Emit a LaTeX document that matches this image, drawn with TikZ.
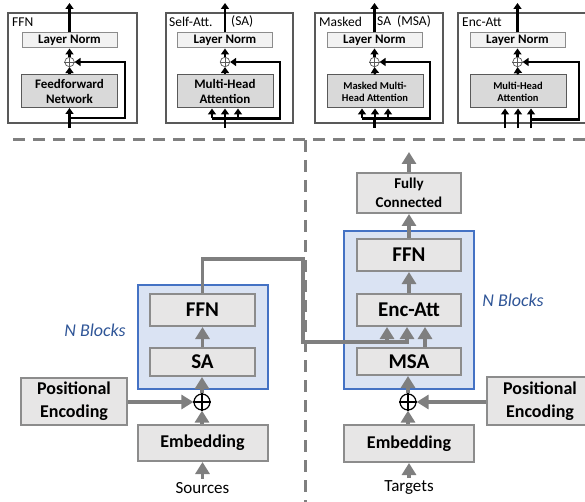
\documentclass[tikz,border=0pt]{standalone}
\usepackage{fontspec}
\setmainfont{Carlito}
\usetikzlibrary{arrows.meta, calc}

\definecolor{BoxFill}{HTML}{E7E6E6}
\definecolor{BoxLine}{HTML}{8C8C8C}
\definecolor{ArrowGray}{HTML}{7F7F7F}
\definecolor{BlockFill}{HTML}{DAE3F3}
\definecolor{BlockLine}{HTML}{4472C4}
\definecolor{BlockText}{HTML}{2F5597}
\definecolor{NormFill}{HTML}{F2F2F2}
\definecolor{InnerFill}{HTML}{D9D9D9}
\definecolor{FrameLine}{HTML}{595959}

\begin{document}
\begin{tikzpicture}
	[
	x=1pt, y=-1pt,
	Block/.style={draw=BoxLine, fill=BoxFill, line width=2pt, inner sep=0pt, align=center},	%graue Box
	BigText/.style={font=\bfseries\fontsize{21}{23}\selectfont},
	MidText/.style={font=\bfseries\fontsize{18}{23}\selectfont},
	SmallText/.style={font=\bfseries\fontsize{15}{19}\selectfont},
	NBlock/.style={draw=BlockLine, fill=BlockFill, line width=1.5pt, inner sep=0pt},		%blaue N-Blocks Box
	BlueText/.style={text=BlockText, font=\itshape\fontsize{18}{20}\selectfont},
	PlainText/.style={font=\fontsize{17}{20}\selectfont},
	GrayArrow/.style={draw=ArrowGray, line width=3.8pt, -{Triangle[length=12pt,width=14pt]}},
	DashLine/.style={draw=ArrowGray, line width=3pt, dash pattern=on 12pt off 8pt},
	SumNode/.style={circle, draw=black, fill=white, line width=1.2pt, minimum size=16pt, inner sep=0pt},
	InsetFrame/.style={draw=FrameLine, line width=1.1pt, fill=white},						%Rahmen der Detailbilder
	InsetLabel/.style={anchor=west, inner sep=0pt, font=\fontsize{13.5}{15}\selectfont},
	NormBox/.style={draw=BoxLine, fill=NormFill, line width=1pt, inner sep=0pt, minimum width=95pt, minimum height=15pt, font=\bfseries\fontsize{13}{15}\selectfont},
	InnerBox/.style={draw=FrameLine, fill=InnerFill, line width=1pt, inner sep=0pt, align=center, minimum width=96pt, minimum height=33pt, font=\bfseries\fontsize{13}{15}\selectfont},
	InnerSmall/.style={font=\bfseries\fontsize{10.5}{12}\selectfont},
	SmallSum/.style={circle, draw=FrameLine, line width=0.7pt, minimum size=9.5pt, inner sep=0pt},
	BlackArrow/.style={line width=2.5pt, -{Triangle[length=6pt,width=8pt]}},
	BlackLine/.style={line width=2.5pt}
	]
	
	\useasboundingbox (0,0) rectangle (585,502);
	
	%% Detailbilder oben %%
	\draw[InsetFrame] (8,13) rectangle (137,123);		%FFN
	\draw[InsetFrame] (166,13) rectangle (293,123);		%SA
	\draw[InsetFrame] (315,13) rectangle (443,123);		%MSA
	\draw[InsetFrame] (458,13) rectangle (600,123);		%Enc-Att
	\node[InsetLabel] at (12,22) {FFN};
	\node[InsetLabel] at (169,22) {Self-Att.};
	\node[InsetLabel] at (231,22) {(SA)};
	\node[InsetLabel] at (319,22) {Masked};
	\node[InsetLabel] at (377,22) {SA~~(MSA)};
	\node[InsetLabel] at (462,22) {Enc-Att};
	
	% FFN
	\node[NormBox] (ffnNorm) at (69.5,40.5) {Layer Norm};
	\node[SmallSum] (ffnSum) at (69.5,62) {};
	\node[InnerBox] (ffnMain) at (69.5,91) {Feedforward\\Network};
	\coordinate (ffnIn)  at (69.5,128);
	\coordinate (ffnRes) at (125,118);
	\coordinate (ffnOut) at (69.5,3);
	\draw[BlackArrow] (ffnIn) -- (ffnMain.south);
	\draw[BlackArrow] (ffnIn |- ffnRes) -| (ffnRes |- ffnSum) -- (ffnSum.east);
	\draw[BlackArrow] (ffnMain.north) -- (ffnSum.south);
	\draw[BlackArrow] (ffnSum.north) -- (ffnNorm.south);
	\draw[BlackArrow] (ffnNorm.north) -- (ffnOut);
	
	% SA
	\node[NormBox] (saNorm) at (225,40.5) {Layer Norm};
	\node[SmallSum] (saSum) at (225,62) {};
	\node[InnerBox] (saMain) at (225,91.5) {Multi-Head\\Attention};
	\coordinate (saIn)  at (225,128);
	\coordinate (saRes) at (280,118);
	\coordinate (saOut) at (225,3);
	\draw[BlackLine] (saIn) -- (saIn |- saRes);
	\draw[BlackArrow] ($(saMain.south)+(-13,10)$) -| (saRes |- saSum) -- (saSum.east);
	\foreach \dx in {-13,0,13}
		\draw[BlackArrow] ($(saMain.south)+(\dx,10)$) -- ($(saMain.south)+(\dx,0)$);
	\draw[BlackArrow] (saMain.north) -- (saSum.south);
	\draw[BlackArrow] (saSum.north) -- (saNorm.south);
	\draw[BlackArrow] (saNorm.north) -- (saOut);
	
	% MSA
	\node[NormBox] (msaNorm) at (374.5,40.5) {Layer Norm};
	\node[SmallSum] (msaSum) at (374.5,62) {};
	\node[InnerBox, InnerSmall] (msaMain) at (375,91.5) {Masked Multi-\\Head Attention};
	\coordinate (msaIn)  at (374.5,128);
	\coordinate (msaRes) at (430,118);
	\coordinate (msaOut) at (374.5,3);
	\draw[BlackLine] (msaIn) -- (msaIn |- msaRes);
	\draw[BlackArrow] ($(msaMain.south)+(-13,10)$) -| (msaRes |- msaSum) -- (msaSum.east);
	\foreach \dx in {-13,0,13}
		\draw[BlackArrow] ($(msaMain.south)+(\dx,10)$) -- ($(msaMain.south)+(\dx,0)$);
	\draw[BlackArrow] (msaMain.north) -- (msaSum.south);
	\draw[BlackArrow] (msaSum.north) -- (msaNorm.south);
	\draw[BlackArrow] (msaNorm.north) -- (msaOut);
	
	% Enc-Att
	\node[NormBox] (eaNorm) at (517.5,40.5) {Layer Norm};
	\node[SmallSum] (eaSum) at (517.5,62) {};
	\node[InnerBox, InnerSmall] (eaMain) at (518,91.5) {Multi-Head\\Attention};
	\coordinate (eaRes) at (579,119);
	\coordinate (eaOut) at (517.5,3);
	\foreach \dx in {-13,0,13}
		\draw[BlackArrow] ($(eaMain.south)+(\dx,20)$) -- ($(eaMain.south)+(\dx,0)$);
	\draw[BlackArrow] ($(eaMain.south)+(13,11)$) -| (eaRes |- eaSum) -- (eaSum.east);
	\draw[BlackArrow] (eaMain.north) -- (eaSum.south);
	\draw[BlackArrow] (eaSum.north) -- (eaNorm.south);
	\draw[BlackArrow] (eaNorm.north) -- (eaOut);
	
	% Kreuze in den Summenknoten
	\foreach \s in {ffnSum, saSum, msaSum, eaSum}
		\draw[FrameLine, line width=0.7pt] (\s.north) -- (\s.south) (\s.west) -- (\s.east);
	
	%% Trennlinien %%
	\draw[DashLine] (13,140) -- (585,140);
	\draw[DashLine] (305,140) -- (305,502);
	
	%%%%%%%%%%%%%%%%%%%%%%%%%% Encoder %%%%%%%%%%%%%%%%%%%%%%%%%%%%%%%
	\node[NBlock, minimum width=130pt, minimum height=104pt] (EncBlocks) at (203,337) {};
	\node[Block, BigText, minimum width=105pt, minimum height=32pt] (EncFFN) at (202.5,310) {FFN};
	\node[Block, BigText, minimum width=105pt, minimum height=28pt] (EncSA) at (202.5,362) {SA};
	\node[SumNode] (EncSum) at (202,402) {};
	\node[Block, MidText, minimum width=106pt, minimum height=47pt] (EncPE) at (74,401.5) {Positional\\Encoding};
	\node[Block, MidText, minimum width=130pt, minimum height=36pt] (EncEmb) at (202.5,443) {Embedding};
	\node[PlainText] (Sources) at (202.5,488) {Sources};
	\node[BlueText] at (95,330) {N Blocks};
	
	\draw[GrayArrow] (Sources.north) -- (EncEmb.south);
	\draw[GrayArrow] (EncEmb.north -| EncSum) -- (EncSum.south);
	\draw[GrayArrow] (EncPE.east |- EncSum) -- (EncSum.west);
	\draw[GrayArrow] (EncSum.north) -- (EncSA.south -| EncSum);
	\draw[GrayArrow] (EncSA.north) -- (EncFFN.south);
	
	%%%%%%%%%%%%%%%%%%%%%%%%%% Decoder %%%%%%%%%%%%%%%%%%%%%%%%%%%%%%%
	\node[NBlock, minimum width=130pt, minimum height=158pt] (DecBlocks) at (409,310) {};
	\node[Block, SmallText, minimum width=104pt, minimum height=40pt] (DecFC) at (409,193) {Fully\\Connected};
	\node[Block, BigText, minimum width=104pt, minimum height=32pt] (DecFFN) at (409,255) {FFN};
	\node[Block, BigText, minimum width=104pt, minimum height=32pt] (DecEA) at (409,310) {Enc-Att};
	\node[Block, BigText, minimum width=104pt, minimum height=27pt] (DecMSA) at (409,361.5) {MSA};
	\node[SumNode] (DecSum) at (408,402) {};
	\node[Block, MidText, minimum width=106pt, minimum height=48pt] (DecPE) at (540,401) {Positional\\Encoding};
	\node[Block, MidText, minimum width=130pt, minimum height=37pt] (DecEmb) at (409,443.5) {Embedding};
	\node[PlainText] (Targets) at (409,488) {Targets};
	\node[BlueText] at (513,300) {N Blocks};
	\coordinate (DecOut) at (409,152);
	
	\draw[GrayArrow] (Targets.north) -- (DecEmb.south);
	\draw[GrayArrow] (DecEmb.north -| DecSum) -- (DecSum.south);
	\draw[GrayArrow] (DecPE.west |- DecSum) -- (DecSum.east);
	\draw[GrayArrow] (DecSum.north) -- (DecMSA.south -| DecSum);
	\draw[GrayArrow] ($(DecMSA.north)+(16,0)$) -- ($(DecEA.south)+(16,0)$);
	\draw[GrayArrow] (DecEA.north) -- (DecFFN.south);
	\draw[GrayArrow] (DecFFN.north) -- (DecFC.south);
	\draw[GrayArrow] (DecFC.north) -- (DecOut);
	
	% Verbindung Encoder -> Enc-Att
	\coordinate (EncOut)  at (303,259);
	\coordinate (EncDown) at (303,342);
	\draw[GrayArrow] (EncFFN.north) |- (EncOut) -- (EncDown) -| ($(DecEA.south)+(-2,0)$);
	\draw[GrayArrow] ($(DecEA.south)+(-22,16)$) -- ($(DecEA.south)+(-22,0)$);
	
	% Kreuze in den Summenknoten
	\foreach \s in {EncSum, DecSum}
		\draw[line width=1.2pt] (\s.north) -- (\s.south) (\s.west) -- (\s.east);
\end{tikzpicture}
\end{document}
